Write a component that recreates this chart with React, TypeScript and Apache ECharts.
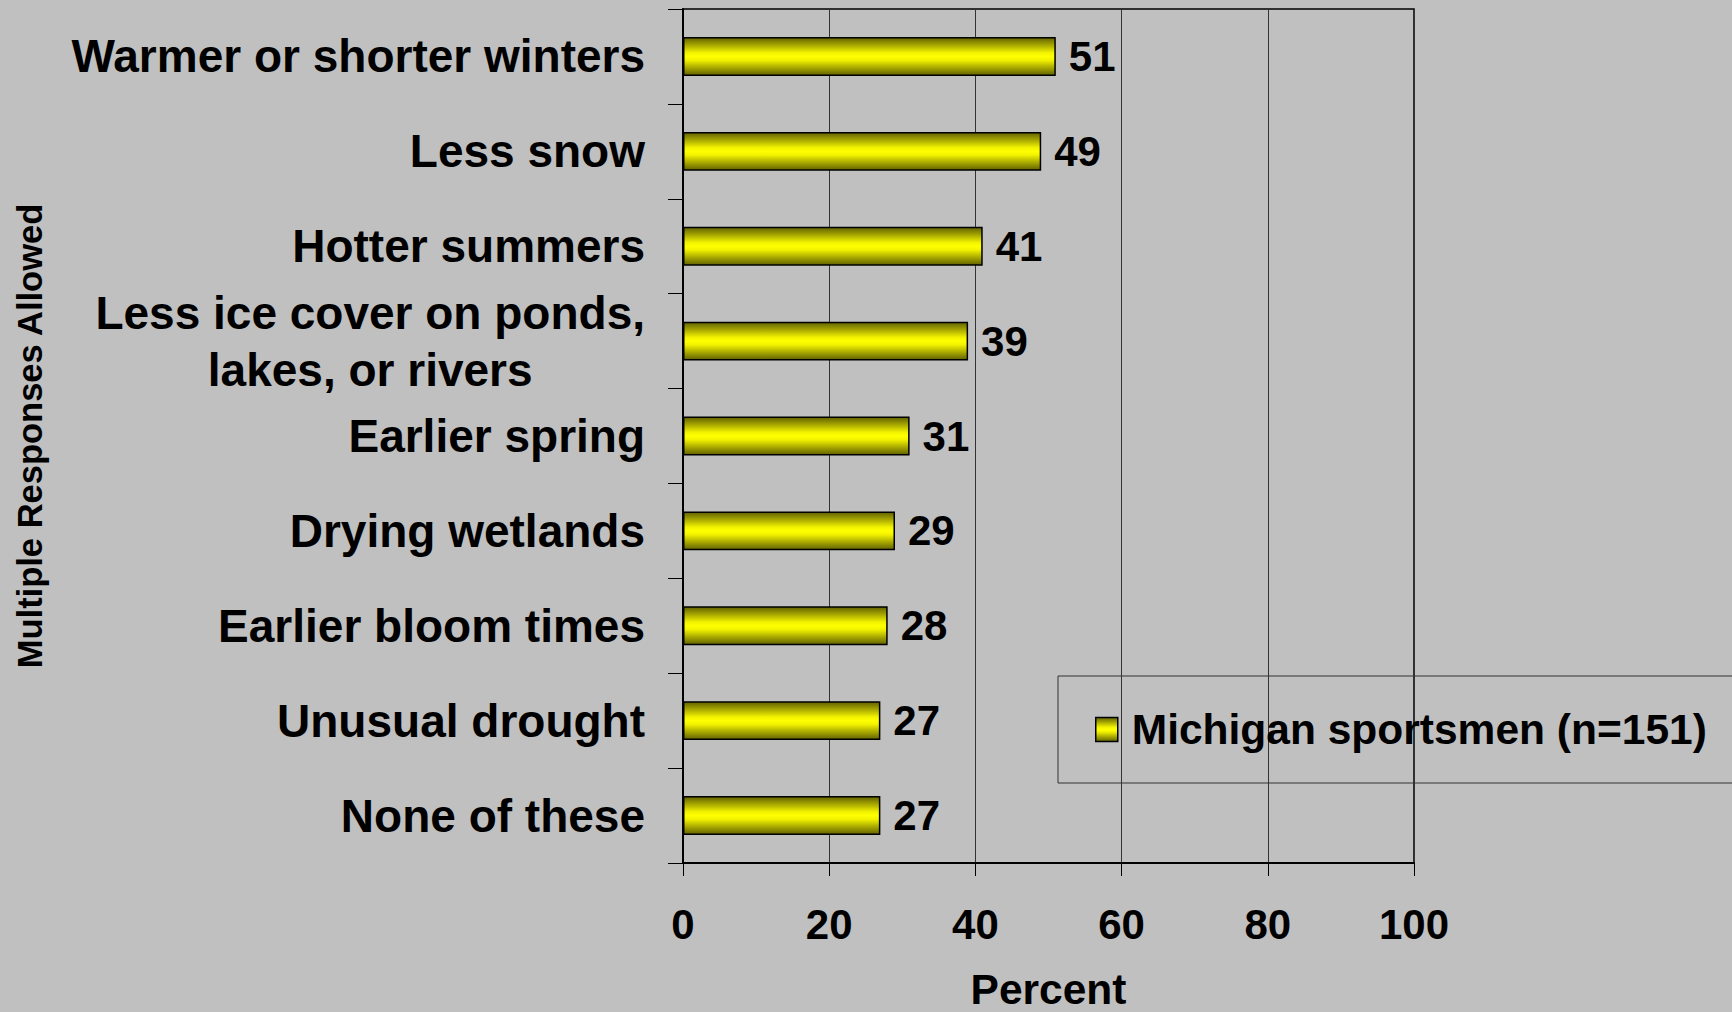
import React, { useEffect, useRef } from 'react';
import * as echarts from 'echarts';

const categories = [
  'Warmer or shorter winters',
  'Less snow',
  'Hotter summers',
  'Less ice cover on ponds,\nlakes, or rivers',
  'Earlier spring',
  'Drying wetlands',
  'Earlier bloom times',
  'Unusual drought',
  'None of these',
];
const values = [51, 49, 41, 39, 31, 29, 28, 27, 27];
const xMin = 0;
const xMax = 100;
const xInterval = 20;
const seriesName = 'Michigan sportsmen (n=151)';
const yAxisTitle = 'Multiple Responses Allowed';
const xAxisTitle = 'Percent';

const FONT = '"Liberation Sans", Arial, sans-serif';

export default function App() {
  const ref = useRef<HTMLDivElement>(null);
  useEffect(() => {
    if (!ref.current) return;
    const chart = echarts.init(ref.current, undefined, { renderer: 'svg' });
    const barGradient = new echarts.graphic.LinearGradient(0, 0, 0, 1, [
      { offset: 0, color: '#626200' },
      { offset: 0.2, color: '#a8a800' },
      { offset: 0.4, color: '#f2f200' },
      { offset: 0.5, color: '#ffff00' },
      { offset: 0.6, color: '#f2f200' },
      { offset: 0.8, color: '#a8a800' },
      { offset: 1, color: '#626200' },
    ]);
    chart.setOption({
      animation: false,
      backgroundColor: '#c0c0c0',
      textStyle: { fontFamily: FONT },
      grid: {
        left: 683,
        right: 318,
        top: 9,
        bottom: 149,
        containLabel: false,
        outerBoundsMode: 'none',
        show: true,
        borderColor: '#000',
        borderWidth: 1.5,
        backgroundColor: 'transparent',
      },
      legend: {
        show: true,
        left: 1058,
        top: 676,
        orient: 'horizontal',
        padding: [32, 60, 32, 37],
        itemWidth: 22,
        itemHeight: 24,
        borderColor: '#333',
        borderWidth: 1,
        backgroundColor: 'transparent',
        icon: 'rect',
        itemStyle: { borderColor: '#000', borderWidth: 1.5 },
        textStyle: {
          fontFamily: FONT,
          fontSize: 42.5,
          fontWeight: 'bold',
          color: '#000',
          padding: [0, 0, 0, 9],
        },
        data: [seriesName],
      },
      xAxis: {
        type: 'value',
        min: xMin,
        max: xMax,
        interval: xInterval,
        name: xAxisTitle,
        nameLocation: 'middle',
        nameGap: 105,
        nameTextStyle: { fontFamily: FONT, fontSize: 42.5, lineHeight: 42, fontWeight: 'bold', color: '#000' },
        axisLine: { show: true, lineStyle: { color: '#000', width: 2 } },
        axisTick: { show: true, length: 13, lineStyle: { color: '#000', width: 1 } },
        axisLabel: {
          margin: 40,
          fontFamily: FONT,
          fontSize: 42,
          fontWeight: 'bold',
          color: '#000',
        },
        splitLine: { show: true, lineStyle: { color: '#333', width: 1 } },
      },
      yAxis: {
        type: 'category',
        data: categories,
        inverse: true,
        name: yAxisTitle,
        nameLocation: 'middle',
        nameRotate: 90,
        nameGap: 636,
        nameTextStyle: { fontFamily: FONT, fontSize: 34.5, fontWeight: 'bold', color: '#000' },
        axisLine: { show: true, lineStyle: { color: '#000', width: 2 } },
        axisTick: { show: true, length: 15, alignWithLabel: false, lineStyle: { color: '#000', width: 1 } },
        axisLabel: {
          margin: 38,
          formatter: (v: string) => v.split('\n').map((l) => '{c|' + l + '}').join('\n'),
          rich: {
            c: {
              fontFamily: FONT,
              fontSize: 46,
              fontWeight: 'bold',
              color: '#000',
              lineHeight: 57,
              align: 'center',
            },
          },
        },
        splitLine: { show: false },
      },
      series: [
        {
          name: seriesName,
          type: 'bar',
          data: values,
          barCategoryGap: '59%',
          itemStyle: { color: barGradient, borderColor: '#000', borderWidth: 1.5 },
          label: {
            show: true,
            position: 'right',
            distance: 13,
            fontFamily: FONT,
            fontSize: 42,
            fontWeight: 'bold',
            color: '#000',
          },
        },
      ],
    });
    return () => chart.dispose();
  }, []);
  return (
    <div
      ref={ref}
      style={{ position: 'fixed', left: 0, top: 0, width: 1732, height: 1012, background: '#c0c0c0' }}
    />
  );
}
